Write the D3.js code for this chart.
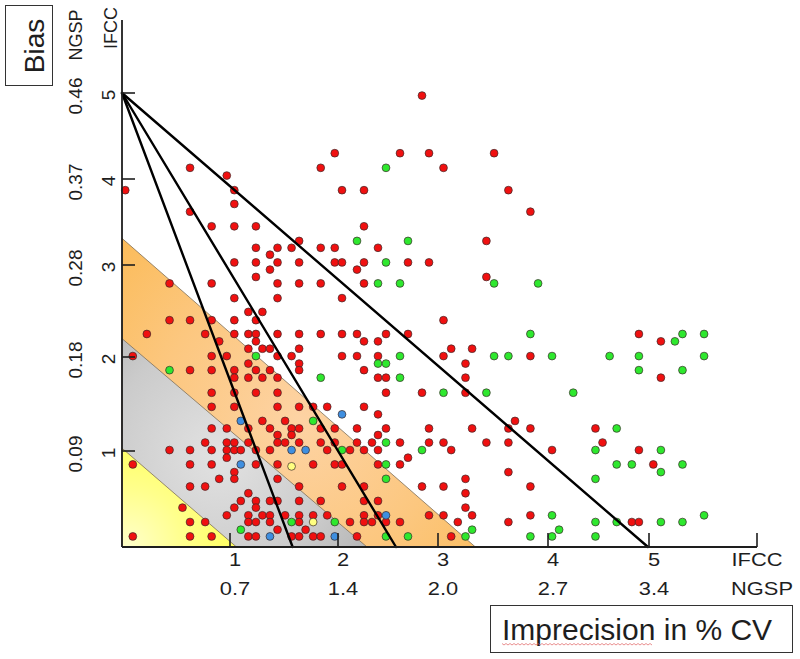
<!DOCTYPE html>
<html>
<head>
<meta charset="utf-8">
<script src="https://cdn.jsdelivr.net/npm/d3@7"></script>
<style>
  html, body { margin: 0; padding: 0; background: #fff; }
  svg { display: block; font-family: "Liberation Sans", Arial, sans-serif; }
</style>
</head>
<body>
<svg id="chart" width="800" height="659"></svg>
<script>
// ---------- data ----------
const xTickValues = [1, 2, 3, 4, 5];
const xIfccLabels = ["1", "2", "3", "4", "5"];
const xNgspLabels = ["0.7", "1.4", "2.0", "2.7", "3.4"];
const yTickValues = [1, 2, 3, 4, 5];
const yIfccLabels = ["1", "2", "3", "4", "5"];
const yNgspLabels = ["0.09", "0.18", "0.28", "0.37", "0.46"];

// quality bands: [x-intercept, y-intercept] (imprecision, bias)
const bandNames = ["orange", "gray", "yellow"];
const bandXIntercepts = [3.34, 2.29, 1.06];
const bandYIntercepts = [3.31, 2.20, 1.03];

// sigma lines from (0, 5) to (x, 0)
const lineStart = [0, 5];
const lineEnds = [1.58, 2.58, 4.99];

const redPoints = [
  [0.63,4.13],[0.97,4.04],[0.03,3.87],[1.04,3.87],[1.04,3.71],[0.63,3.62],[0.83,3.45],[1.04,3.45],[1.24,3.45],[1.64,3.28],
  [1.24,3.20],[1.44,3.20],[1.57,3.20],[1.37,3.12],[1.04,3.03],[1.24,3.03],[1.44,3.03],[1.64,3.03],[1.37,2.95],[1.24,2.87],
  [0.44,2.80],[0.83,2.80],[1.44,2.80],[1.64,2.80],[1.04,2.64],[1.44,2.64],[1.17,2.49],[1.30,2.49],
  [0.44,2.40],[0.63,2.40],[0.83,2.40],[1.04,2.40],[1.24,2.40],
  [0.23,2.25],[0.77,2.25],[1.04,2.25],[1.17,2.25],[1.24,2.25],[1.44,2.25],[1.64,2.25],
  [0.90,2.17],[1.24,2.17],
  [1.17,2.09],[1.30,2.09],[1.37,2.09],[1.64,2.09],
  [0.10,2.01],[0.83,2.01],[0.97,2.01],[1.44,2.01],[1.57,2.01],
  [1.17,1.93],[1.64,1.93],
  [0.63,1.86],[0.83,1.86],[1.04,1.86],[1.24,1.86],[1.37,1.86],[1.64,1.86],
  [1.04,1.78],[1.17,1.78],[1.30,1.78],[1.44,1.78],
  [0.83,1.62],[1.04,1.62],[1.24,1.62],[1.44,1.62],
  [0.83,1.47],[1.04,1.47],[1.44,1.47],[1.64,1.47],[1.77,1.47],
  [1.30,1.32],[1.51,1.32],
  [0.83,1.24],[0.97,1.24],[1.17,1.24],[1.37,1.24],[1.57,1.24],[1.64,1.24],
  [1.44,1.17],[1.57,1.17],
  [0.77,1.09],[0.97,1.09],[1.04,1.09],[1.17,1.09],[1.44,1.09],[1.51,1.09],[1.64,1.09],
  [0.44,1.01],[0.63,1.01],[0.83,1.01],[0.97,1.01],[1.04,1.01],[1.10,1.01],[1.24,1.01],[1.37,1.01],
  [0.97,0.93],
  [0.10,0.86],[0.63,0.86],[0.83,0.86],[1.24,0.86],[1.44,0.86],[1.77,0.86],
  [1.04,0.78],
  [0.90,0.71],[1.04,0.71],[1.44,0.71],
  [0.63,0.63],[0.77,0.63],[1.64,0.63],
  [1.17,0.56],
  [1.10,0.48],[1.24,0.48],[1.37,0.48],[1.44,0.48],[1.64,0.48],
  [0.56,0.41],[1.04,0.41],[1.24,0.41],
  [0.97,0.33],[1.17,0.33],[1.30,0.33],[1.37,0.33],[1.51,0.33],[1.64,0.33],[1.77,0.33],
  [0.63,0.26],[0.77,0.26],[1.17,0.26],[1.24,0.26],[1.37,0.26],[1.64,0.26],
  [1.44,0.18],[1.70,0.18],
  [0.10,0.11],[0.63,0.11],[0.83,0.11],[1.17,0.11],[1.24,0.11],[1.57,0.11],[1.64,0.11],[1.77,0.11],
  [2.84,4.97],[1.97,4.30],[2.62,4.30],[2.91,4.30],[3.51,4.30],[1.84,4.13],[3.05,4.13],[2.04,3.87],[2.26,3.87],[3.64,3.87],
  [3.84,3.62],[2.26,3.45],[3.44,3.28],[1.84,3.20],[1.97,3.20],[2.40,3.20],[1.97,3.03],[2.04,3.03],[2.26,3.03],[2.70,3.03],
  [2.91,3.03],[2.19,2.95],[3.44,2.87],[1.84,2.80],[2.26,2.80],[2.04,2.64],
  [3.05,2.40],
  [1.84,2.25],[2.04,2.25],[2.19,2.25],[2.48,2.25],[2.70,2.25],[4.90,2.25],
  [2.26,2.17],[2.40,2.17],[5.11,2.17],
  [3.12,2.09],[3.31,2.09],
  [2.04,2.01],[2.19,2.01],[2.40,2.01],[3.05,2.01],[3.84,2.01],
  [3.25,1.93],
  [2.26,1.86],
  [2.40,1.78],[2.48,1.78],[3.25,1.78],[5.11,1.78],
  [2.48,1.62],[2.84,1.62],[3.25,1.62],
  [1.90,1.47],[2.26,1.47],
  [2.40,1.39],
  [3.70,1.32],
  [1.84,1.24],[1.97,1.24],[2.19,1.24],[2.48,1.24],[2.91,1.24],[3.31,1.24],[3.64,1.24],[3.84,1.24],[4.47,1.24],
  [2.40,1.17],
  [1.84,1.09],[1.97,1.09],[2.19,1.09],[2.34,1.09],[2.62,1.09],[2.91,1.09],[3.05,1.09],[3.44,1.09],[3.64,1.09],[4.54,1.09],
  [1.90,1.01],[2.12,1.01],[2.26,1.01],[2.40,1.01],[3.12,1.01],[4.04,1.01],[4.90,1.01],
  [2.70,0.93],
  [1.97,0.86],[2.04,0.86],[2.40,0.86],[2.62,0.86],[5.04,0.86],
  [3.64,0.78],
  [3.25,0.71],
  [2.04,0.63],[2.26,0.63],[2.84,0.63],[3.05,0.63],[3.84,0.63],
  [3.25,0.56],
  [1.84,0.48],[2.26,0.48],[2.40,0.48],
  [3.25,0.41],
  [1.90,0.33],[2.26,0.33],[2.40,0.33],[2.91,0.33],[3.05,0.33],[3.31,0.33],[3.84,0.33],
  [2.12,0.26],[2.26,0.26],[2.34,0.26],[2.48,0.26],[2.62,0.26],[3.18,0.26],[3.64,0.26],[4.83,0.26],[4.90,0.26],
  [1.84,0.11],[2.19,0.11],[3.12,0.11]
];

const greenPoints = [
  [1.24,2.01],[0.44,1.86],[1.77,1.32],[1.57,0.26],[1.10,0.18],
  [2.48,4.13],[2.19,3.28],[2.70,3.28],[2.48,3.03],[2.40,2.80],[2.62,2.80],[3.51,2.80],[3.91,2.80],
  [3.84,2.25],[5.31,2.25],[5.51,2.25],[5.24,2.17],
  [2.62,2.01],[3.51,2.01],[3.64,2.01],[4.04,2.01],[4.61,2.01],[4.90,2.01],[5.51,2.01],
  [2.40,1.93],[2.48,1.93],[4.90,1.86],[5.31,1.86],[1.84,1.78],[2.62,1.78],
  [3.05,1.62],[3.44,1.62],[4.25,1.62],[4.68,1.24],[2.48,1.09],
  [2.04,1.01],[2.84,1.01],[4.47,1.01],[5.11,1.01],
  [2.48,0.86],[4.68,0.86],[4.83,0.86],[5.31,0.86],[5.11,0.78],[2.48,0.71],[4.47,0.71],
  [4.04,0.33],[5.51,0.33],
  [1.97,0.26],[4.47,0.26],[4.68,0.26],[5.11,0.26],[5.31,0.26],
  [3.31,0.18],[4.11,0.18],
  [2.48,0.11],[2.70,0.11],[3.25,0.11],[3.84,0.11],[4.04,0.11],[4.47,0.11]
];

const bluePoints = [
  [1.10,1.32],[1.57,1.01],[1.70,1.01],[1.10,0.86],[1.37,0.11],[2.04,1.39],[2.48,0.33],[1.97,0.11]
];

const yellowPoints = [
  [1.57,0.84],[1.77,0.26]
];

// ---------- scales ----------
const svg = d3.select("#chart");
const x = d3.scaleLinear()
  .domain([0, 1, 2, 3, 4, 5, 6])
  .range([122, 230, 338, 438, 548, 649, 757]);
const y = d3.scaleLinear()
  .domain([0, 1, 2, 3, 4, 5, 6])
  .range([547, 451, 357, 265, 179, 93, 7]);
const yAxisTop = 5.85;

// ---------- gradients ----------
const defs = svg.append("defs");
function radial(id, cx, cy, r, stops) {
  const g = defs.append("radialGradient").attr("id", id)
    .attr("gradientUnits", "userSpaceOnUse")
    .attr("cx", cx).attr("cy", cy).attr("r", r);
  stops.forEach(s => g.append("stop").attr("offset", s[0]).attr("stop-color", s[1]));
}
radial("g-orange", 300, 420, 260, [[0, "#fdd3a4"], [0.55, "#fcc77f"], [1, "#fbbb58"]]);
radial("g-gray", 220, 455, 190, [[0, "#e2e2e2"], [0.6, "#cbcbcb"], [1, "#b0b0b0"]]);
radial("g-yellow", 128, 545, 125, [[0, "#ffffc8"], [0.45, "#ffff8c"], [1, "#ffff50"]]);

// ---------- bands ----------
const bandFill = { orange: "url(#g-orange)", gray: "url(#g-gray)", yellow: "url(#g-yellow)" };
bandNames.forEach((name, i) => {
  const pts = [[0, 0], [0, bandYIntercepts[i]], [bandXIntercepts[i], 0]];
  svg.append("path")
    .attr("d", d3.line().x(d => x(d[0])).y(d => y(d[1]))(pts) + "Z")
    .attr("fill", bandFill[name])
    .attr("stroke", "#7d6f58")
    .attr("stroke-width", 0.8);
});

// ---------- points ----------
function drawPoints(data, color) {
  svg.append("g").selectAll("circle").data(data).join("circle")
    .attr("cx", d => x(d[0]))
    .attr("cy", d => y(d[1]))
    .attr("r", 3.9)
    .attr("fill", color)
    .attr("stroke", "#3a2a2a")
    .attr("stroke-width", 0.7);
}
drawPoints(redPoints, "#f01010");
drawPoints(greenPoints, "#2ee82e");
drawPoints(bluePoints, "#3f8fe0");
drawPoints(yellowPoints, "#ffff80");

// ---------- sigma lines ----------
lineEnds.forEach(xe => {
  svg.append("line")
    .attr("x1", x(lineStart[0])).attr("y1", y(lineStart[1]))
    .attr("x2", x(xe)).attr("y2", y(0))
    .attr("stroke", "#000").attr("stroke-width", 2.4)
    .attr("stroke-linecap", "round");
});

// ---------- axes ----------
const axisColor = "#1e1e1e";
svg.append("line")
  .attr("x1", x(0)).attr("x2", x(0)).attr("y1", y(0)).attr("y2", y(yAxisTop))
  .attr("stroke", axisColor).attr("stroke-width", 1.8);
svg.append("line")
  .attr("x1", x(0)).attr("x2", x(6)).attr("y1", y(0)).attr("y2", y(0))
  .attr("stroke", axisColor).attr("stroke-width", 1.8);

// x ticks (incl. end tick at IFCC label)
xTickValues.concat([6]).forEach(v => {
  svg.append("line")
    .attr("x1", x(v)).attr("x2", x(v)).attr("y1", y(0)).attr("y2", y(0) - 14)
    .attr("stroke", axisColor).attr("stroke-width", 1.6);
});
// y ticks
yTickValues.forEach(v => {
  svg.append("line")
    .attr("x1", x(0)).attr("x2", x(0) + 13).attr("y1", y(v)).attr("y2", y(v))
    .attr("stroke", axisColor).attr("stroke-width", 1.6);
});

const textColor = "#1e1e1e";
function hText(tx, ty, str, size, sx) {
  svg.append("g").attr("transform", `translate(${tx},${ty}) scale(${sx},1)`)
    .append("text").attr("text-anchor", "middle")
    .attr("font-size", size).attr("fill", textColor).text(str);
}
function vText(tx, ty, str, size) {
  svg.append("g").attr("transform", `translate(${tx},${ty}) rotate(-90)`)
    .append("text").attr("text-anchor", "middle")
    .attr("font-size", size).attr("fill", textColor).text(str);
}

xTickValues.forEach((v, i) => {
  hText(x(v) + 5, 566, xIfccLabels[i], 19, 1.15);
  hText(x(v) + 5, 595, xNgspLabels[i], 19, 1.15);
});
hText(x(6), 566, "IFCC", 19, 1.15);
hText(x(6) + 5, 595, "NGSP", 19, 1.15);

yTickValues.forEach((v, i) => {
  vText(115, y(v) + 2, yIfccLabels[i], 19);
  vText(82, y(v) + 3, yNgspLabels[i], 19);
});
vText(117, 28, "IFCC", 18);
vText(82, 35, "NGSP", 18);

// ---------- title boxes ----------
svg.append("rect").attr("x", 5.5).attr("y", 5.5).attr("width", 47).attr("height", 80)
  .attr("fill", "#fff").attr("stroke", "#333").attr("stroke-width", 1);
vText(44, 46, "Bias", 28);

svg.append("rect").attr("x", 490.5).attr("y", 605.5).attr("width", 302).attr("height", 47)
  .attr("fill", "#fff").attr("stroke", "#333").attr("stroke-width", 1);
svg.append("text").attr("x", 502).attr("y", 640).attr("font-size", 30)
  .attr("fill", textColor).text("Imprecision in % CV");
// spell-check squiggle under "Imprecision"
const squiggle = d3.range(502, 654, 2).map((px, i) => [px, 644 + (i % 2 ? 1 : -0.5)]);
svg.append("path").attr("d", d3.line()(squiggle))
  .attr("fill", "none").attr("stroke", "#e06060").attr("stroke-width", 0.7);
</script>
</body>
</html>
